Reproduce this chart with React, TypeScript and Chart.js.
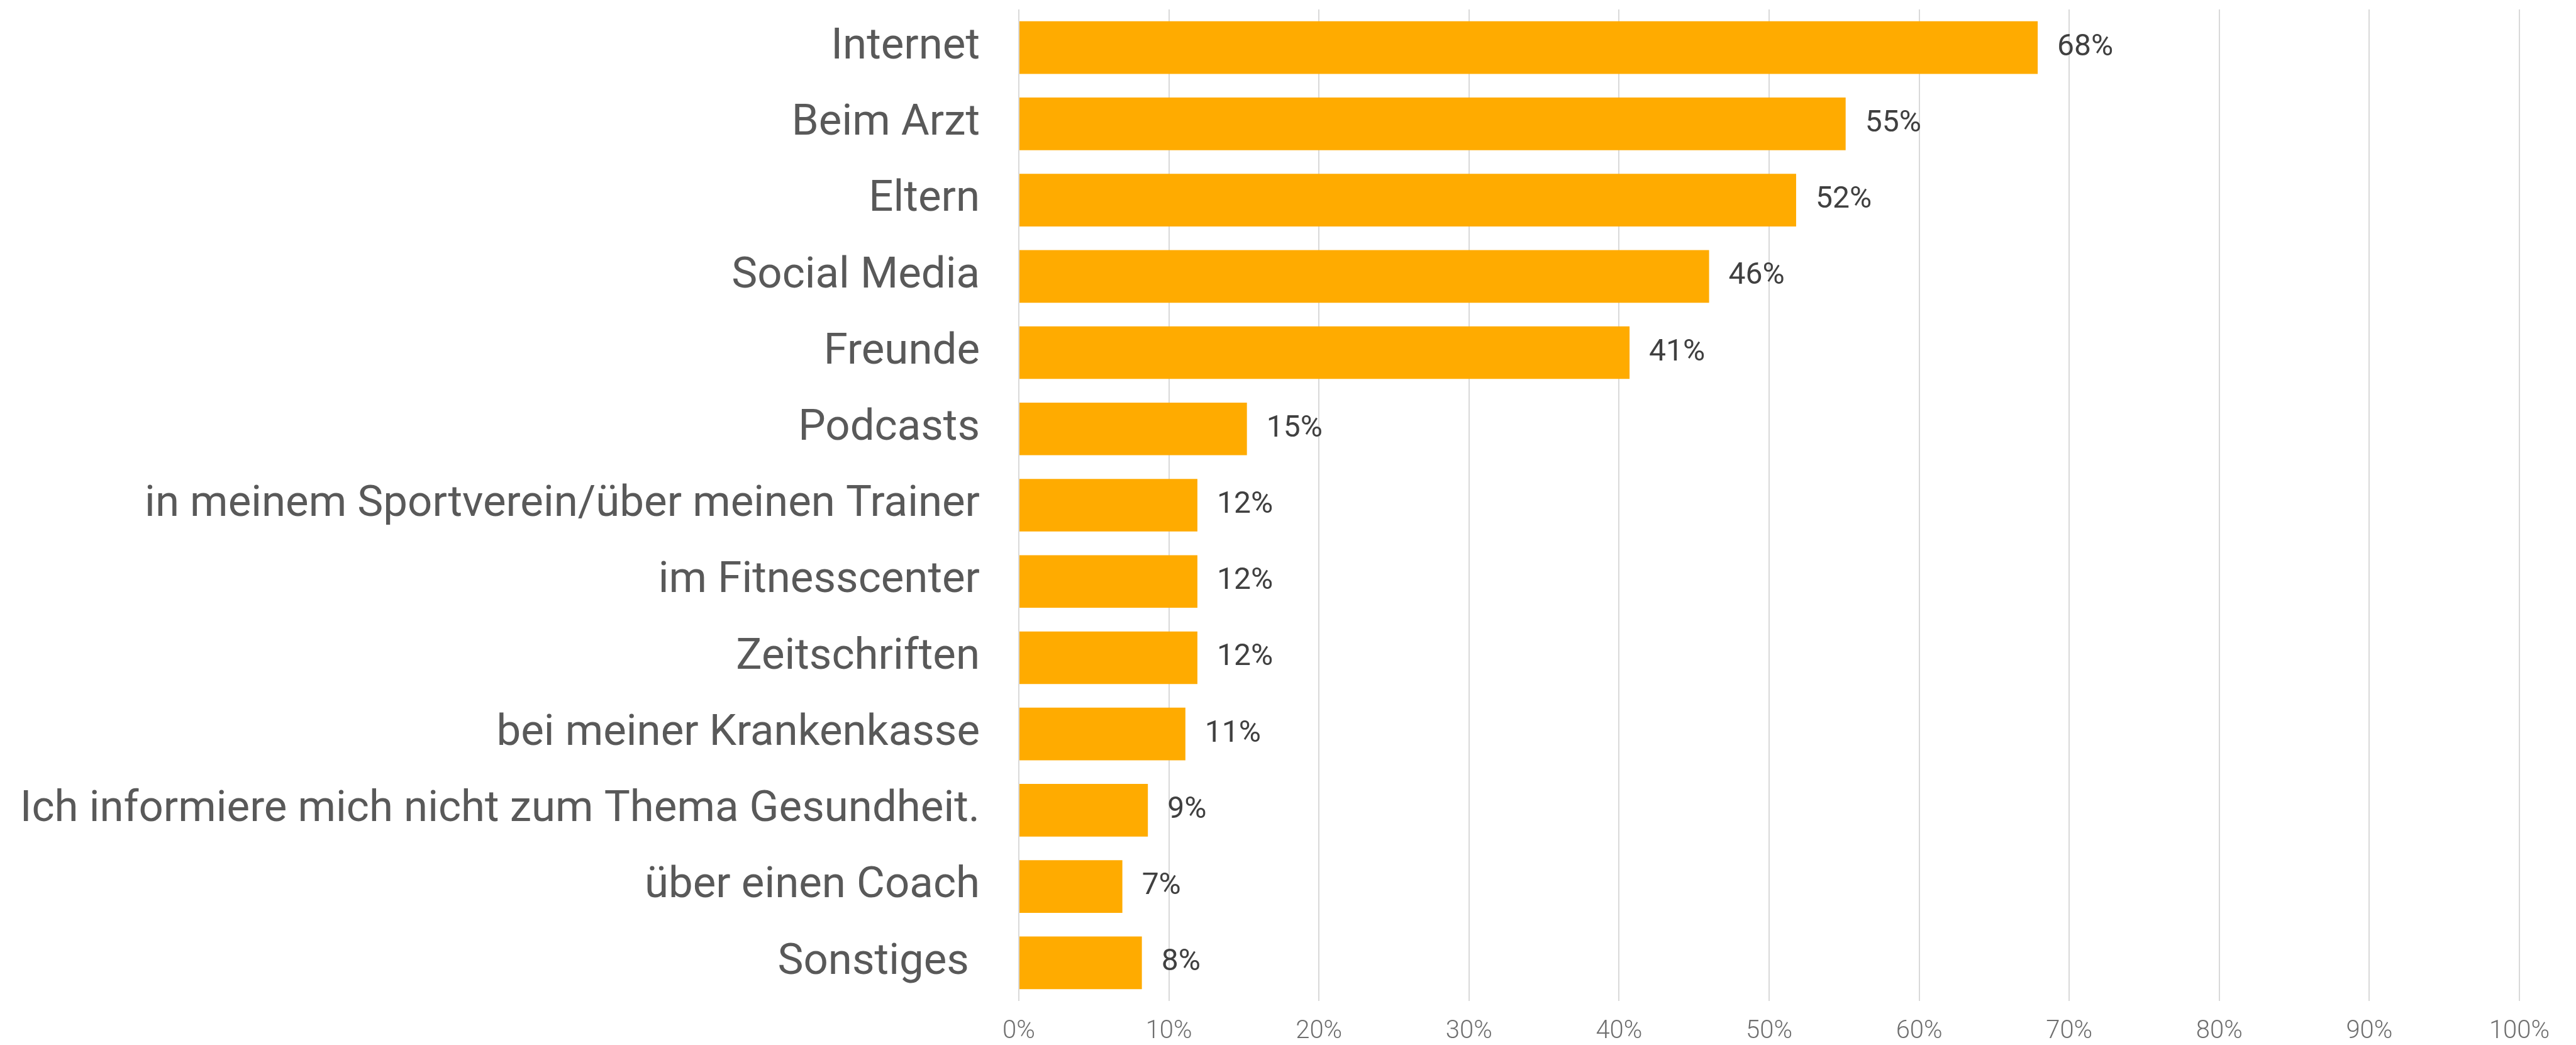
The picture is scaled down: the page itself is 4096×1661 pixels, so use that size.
import React, { useEffect, useRef } from "react";
import { Chart, registerables } from "chart.js";

Chart.register(...registerables);

const categories = [
  "Internet",
  "Beim Arzt",
  "Eltern",
  "Social Media",
  "Freunde",
  "Podcasts",
  "in meinem Sportverein/über meinen Trainer",
  "im Fitnesscenter",
  "Zeitschriften",
  "bei meiner Krankenkasse",
  "Ich informiere mich nicht zum Thema Gesundheit.",
  "über einen Coach",
  "Sonstiges ",
];

const values = [67.9, 55.1, 51.8, 46.0, 40.7, 15.2, 11.9, 11.9, 11.9, 11.1, 8.6, 6.9, 8.2];

const valueLabels = ["68%", "55%", "52%", "46%", "41%", "15%", "12%", "12%", "12%", "11%", "9%", "7%", "8%"];

const xTicks = [0, 10, 20, 30, 40, 50, 60, 70, 80, 90, 100];

const W = 4096;
const H = 1661;

const valueLabelPlugin = {
  id: "valueLabels",
  afterDatasetsDraw(chart: any) {
    const ctx = chart.ctx;
    const meta = chart.getDatasetMeta(0);
    ctx.save();
    ctx.font = "400 48px Roboto";
    ctx.fillStyle = "#404040";
    ctx.textAlign = "left";
    ctx.textBaseline = "middle";
    meta.data.forEach((bar: any, i: number) => {
      ctx.fillText(valueLabels[i], bar.x + 31, bar.y);
    });
    ctx.restore();
  },
};

export default function App() {
  const ref = useRef<HTMLCanvasElement | null>(null);

  useEffect(() => {
    if (!ref.current) return;
    const chart = new Chart(ref.current, {
      type: "bar",
      data: {
        labels: categories,
        datasets: [
          {
            data: values,
            backgroundColor: "#FFAB00",
            borderWidth: 0,
            categoryPercentage: 1,
            barPercentage: 0.69,
          },
        ],
      },
      options: {
        indexAxis: "y",
        responsive: false,
        animation: false,
        devicePixelRatio: 1,
        layout: { padding: { top: 15, right: 90, left: 0, bottom: 0 } },
        plugins: {
          legend: { display: false },
          tooltip: { enabled: false },
        },
        scales: {
          x: {
            type: "linear",
            min: 0,
            max: 100,
            afterBuildTicks(scale: any) {
              scale.ticks = xTicks.map((v) => ({ value: v }));
            },
            afterFit(scale: any) {
              scale.height = 70;
              scale.paddingLeft = 0;
              scale.paddingRight = 0;
            },
            ticks: {
              callback: (v: any) => v + "%",
              font: { family: "Roboto", size: 40, weight: "300" },
              color: "#6e6e6e",
              padding: 25,
              maxRotation: 0,
              autoSkip: false,
            },
            grid: {
              color: "#d9d9d9",
              lineWidth: 2,
              drawTicks: false,
            },
            border: { display: false },
          },
          y: {
            type: "category",
            afterFit(scale: any) {
              scale.width = 1620;
              scale.paddingTop = 0;
              scale.paddingBottom = 0;
            },
            ticks: {
              font: { family: "Roboto", size: 69 },
              color: "#595959",
              padding: 62,
              autoSkip: false,
            },
            grid: { display: false, drawTicks: false },
            border: { display: false },
          },
        },
      },
      plugins: [valueLabelPlugin],
    } as any);
    return () => chart.destroy();
  }, []);

  return (
    <div style={{ position: "fixed", left: 0, top: 0, width: W, height: H, background: "#fff" }}>
      <canvas ref={ref} width={W} height={H} style={{ display: "block", width: W, height: H }} />
    </div>
  );
}
